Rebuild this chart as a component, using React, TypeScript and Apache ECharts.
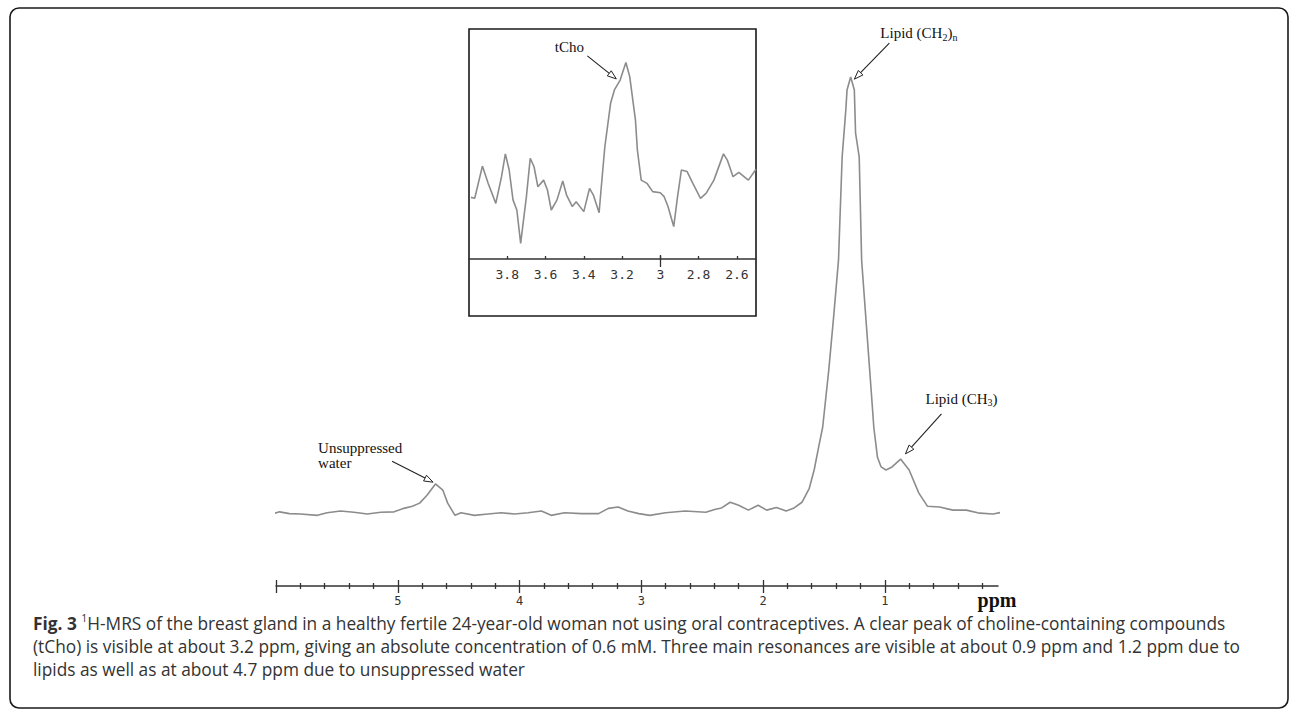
import React, { useEffect, useRef } from "react";
import * as echarts from "echarts";

// ---------- main spectrum (ppm, intensity; baseline 0, tallest peak 100) ----------
const mainPpm = [
  6.02, 5.97, 5.89, 5.8, 5.66, 5.58, 5.47, 5.36, 5.25, 5.14,
  5.03, 4.95, 4.88, 4.82, 4.76, 4.69, 4.63, 4.59, 4.53, 4.48,
  4.37, 4.26, 4.15, 4.04, 3.93, 3.82, 3.74, 3.63, 3.49, 3.35,
  3.27, 3.19, 3.11, 3.02, 2.93, 2.8, 2.64, 2.47, 2.39, 2.34,
  2.27, 2.2, 2.12, 2.04, 1.97, 1.89, 1.81, 1.75, 1.68, 1.62,
  1.58, 1.54, 1.51, 1.46, 1.42, 1.38, 1.35, 1.32, 1.31, 1.28,
  1.25, 1.24, 1.21, 1.19, 1.15, 1.13, 1.11, 1.1, 1.09, 1.06,
  1.03, 0.99, 0.94, 0.87, 0.8, 0.72, 0.65, 0.55, 0.44, 0.33,
  0.22, 0.11, -0.01,
];
const mainIntensity = [
  -0.1, 0.3, -0.1, -0.2, -0.5, 0.1, 0.5, 0.2, -0.2, 0.2,
  0.3, 1.1, 1.6, 2.3, 4.1, 6.7, 5.3, 2.3, -0.5, 0.1,
  -0.5, -0.2, 0.1, -0.2, 0.1, 0.5, -0.5, 0.1, -0.1, -0.1,
  1.1, 1.4, 0.5, -0.1, -0.5, 0.1, 0.5, 0.2, 0.9, 1.2,
  2.5, 1.8, 0.7, 1.8, 0.7, 1.3, 0.5, 1.1, 2.5, 5.7,
  9.9, 15.6, 19.7, 32.8, 45.0, 58.0, 81.7, 92.4, 97.0, 100,
  97.0, 87.2, 81.7, 58.0, 42.7, 35.1, 27.5, 23.6, 19.7, 12.8,
  10.6, 9.9, 10.6, 12.4, 9.9, 4.6, 1.6, 1.4, 0.7, 0.7,
  0, -0.2, 0.5,
];

// ---------- inset spectrum (zoom of 4.0 – 2.5 ppm) ----------
const insetPpm = [
  3.99, 3.97, 3.93, 3.9, 3.86, 3.83, 3.81, 3.79, 3.77, 3.75,
  3.73, 3.7, 3.68, 3.66, 3.64, 3.61, 3.59, 3.57, 3.54, 3.51,
  3.49, 3.46, 3.44, 3.4, 3.37, 3.35, 3.32, 3.31, 3.29, 3.26,
  3.24, 3.21, 3.18, 3.16, 3.13, 3.12, 3.1, 3.07, 3.04, 3.0,
  2.98, 2.96, 2.93, 2.91, 2.89, 2.86, 2.83, 2.79, 2.76, 2.72,
  2.67, 2.65, 2.62, 2.59, 2.54, 2.5,
];
const insetIntensity = [
  26.8, 26.4, 40.4, 32.9, 24.2, 35.8, 45.7, 38.7, 25.7, 21.3,
  6.8, 27.1, 43.8, 40.1, 31.4, 34.3, 30.0, 21.3, 25.7, 33.9,
  27.8, 22.8, 24.9, 20.6, 30.7, 27.8, 20.1, 30.0, 48.8, 67.7,
  73.5, 77.8, 85.4, 79.3, 60.4, 47.4, 34.3, 32.9, 29.3, 28.8,
  27.1, 22.8, 14.1, 27.1, 38.7, 38.0, 32.9, 26.4, 28.6, 34.3,
  45.7, 43.0, 35.8, 37.7, 34.3, 39.0,
];

// ---------- axis ticks ----------
const mainTickLabels = [5, 4, 3, 2, 1];
const mainMajorTicks = [6, 5, 4, 3, 2, 1];
const mainMinorTicks = [
  5.8, 5.6, 5.4, 5.2, 4.8, 4.6, 4.4, 4.2, 3.8, 3.6, 3.4, 3.2,
  2.8, 2.6, 2.4, 2.2, 1.8, 1.6, 1.4, 1.2, 0.8, 0.6, 0.4, 0.2,
];
const insetTickLabels = [3.8, 3.6, 3.4, 3.2, 3, 2.8, 2.6];
const insetMajorTicks = [3];

// ---------- annotations (arrow tip in data units) ----------
const annotations = [
  { series: 1, ppm: 3.23, v: 78.3, tail: [-29, -23], text: "tCho", tx: -47, ty: -32, align: "center" },
  { series: 0, ppm: 1.25, v: 99.5, tail: [35, -36], text: "Lipid (CH{s|2}){s|n}", tx: 26, ty: -46, align: "left" },
  { series: 0, ppm: 0.83, v: 13.6, tail: [36, -40], text: "Lipid (CH{s|3})", tx: 20, ty: -55, align: "left" },
  { series: 0, ppm: 4.71, v: 7.1, tail: [-41, -21], text: "Unsuppressed\nwater", tx: -115, ty: -27, align: "left" },
];

const captionLines = [
  "{b|Fig. 3} {sup|1}H-MRS of the breast gland in a healthy fertile 24-year-old woman not using oral contraceptives. A clear peak of choline-containing compounds",
  "(tCho) is visible at about 3.2 ppm, giving an absolute concentration of 0.6 mM. Three main resonances are visible at about 0.9 ppm and 1.2 ppm due to",
  "lipids as well as at about 4.7 ppm due to unsuppressed water",
];

const W = 1290;
const H = 711;
const AX = "#333";
const LINE = "#8c8c8c";
const SERIF = "'Liberation Serif', 'Times New Roman', serif";
const SANS = "'Open Sans', 'Noto Sans', sans-serif";
const MONO = "'DejaVu Sans Mono', monospace";
const CAP_SIZE = 17.3;

export default function App() {
  const ref = useRef<HTMLDivElement>(null);
  useEffect(() => {
    const chart = echarts.init(ref.current!, null, { renderer: "svg", width: W, height: H });
    const mainData = mainPpm.map((p, i) => [p, mainIntensity[i]]);
    const insetData = insetPpm.map((p, i) => [p, insetIntensity[i]]);

    const baseX = (gridIndex: number, min: number, max: number) => ({
      type: "value",
      gridIndex,
      min,
      max,
      inverse: true,
      position: "bottom",
      splitLine: { show: false },
      axisLine: { show: false, onZero: false },
      axisTick: { show: false },
      axisLabel: { show: false },
    });

    const option: any = {
      animation: false,
      backgroundColor: "#fff",
      grid: [
        { left: 276, right: 292, top: 77, bottom: 125 },
        { left: 469, right: 534, top: 29, bottom: 452 },
      ],
      xAxis: [
        {
          ...baseX(0, 0.07, 6),
          axisLine: { show: true, onZero: false, lineStyle: { color: AX, width: 1.5 } },
          axisLabel: {
            show: true,
            customValues: mainTickLabels,
            margin: 9,
            color: AX,
            fontSize: 12,
            fontFamily: MONO,
          },
        },
        {
          ...baseX(0, 0.07, 6),
          offset: -6,
          axisTick: { show: true, customValues: mainMajorTicks, length: 13, lineStyle: { color: AX, width: 1.3 } },
        },
        {
          ...baseX(0, 0.07, 6),
          offset: -3,
          axisTick: { show: true, customValues: mainMinorTicks, length: 6, lineStyle: { color: AX, width: 1.3 } },
        },
        {
          ...baseX(1, 2.5, 4),
          axisLine: { show: true, onZero: false, lineStyle: { color: AX, width: 1.5 } },
          axisTick: { show: true, inside: true, customValues: insetTickLabels, length: 3, lineStyle: { color: AX, width: 1.3 } },
          axisLabel: {
            show: true,
            customValues: insetTickLabels,
            margin: 9,
            color: AX,
            fontSize: 13,
            fontFamily: MONO,
          },
        },
        {
          ...baseX(1, 2.5, 4),
          offset: -4,
          axisTick: { show: true, customValues: insetMajorTicks, length: 12, lineStyle: { color: AX, width: 1.3 } },
        },
      ],
      yAxis: [
        { type: "value", gridIndex: 0, min: -16.7, max: 100, show: false },
        { type: "value", gridIndex: 1, min: 0, max: 100, show: false },
      ],
      series: [
        {
          type: "line",
          xAxisIndex: 0,
          yAxisIndex: 0,
          data: mainData,
          showSymbol: false,
          clip: false,
          lineStyle: { color: LINE, width: 1.6 },
          silent: true,
        },
        {
          type: "line",
          xAxisIndex: 3,
          yAxisIndex: 1,
          data: insetData,
          showSymbol: false,
          clip: false,
          lineStyle: { color: LINE, width: 1.6 },
          silent: true,
        },
      ],
    };
    chart.setOption(option);

    const g: any[] = [];
    // outer frame
    g.push({
      type: "rect",
      silent: true,
      shape: { x: 10, y: 8, width: 1278, height: 700, r: 9 },
      style: { fill: "none", stroke: "#1a1a1a", lineWidth: 1.6 },
    });
    // inset frame
    g.push({
      type: "rect",
      silent: true,
      shape: { x: 469, y: 29, width: 287, height: 287 },
      style: { fill: "none", stroke: "#1a1a1a", lineWidth: 1.6 },
    });
    // ppm label
    g.push({
      type: "text",
      x: 997,
      y: 600,
      silent: true,
      style: {
        text: "ppm",
        fill: "#111",
        fontSize: 20,
        fontWeight: "bold",
        fontFamily: SERIF,
        align: "center",
        textAlign: "center",
        verticalAlign: "middle",
        textVerticalAlign: "middle",
      },
    });

    annotations.forEach((a) => {
      const tip = chart.convertToPixel({ seriesIndex: a.series }, [a.ppm, a.v]) as number[];
      const tail = [tip[0] + a.tail[0], tip[1] + a.tail[1]];
      const dx = tail[0] - tip[0];
      const dy = tail[1] - tip[1];
      const len = Math.sqrt(dx * dx + dy * dy);
      const ux = dx / len;
      const uy = dy / len;
      const hl = 9;
      const hw = 3.2;
      const bx = tip[0] + ux * hl;
      const by = tip[1] + uy * hl;
      g.push({
        type: "line",
        silent: true,
        shape: { x1: tail[0], y1: tail[1], x2: bx, y2: by },
        style: { stroke: "#222", lineWidth: 1.1 },
      });
      g.push({
        type: "polygon",
        silent: true,
        shape: {
          points: [
            [tip[0], tip[1]],
            [bx - uy * hw, by + ux * hw],
            [bx + uy * hw, by - ux * hw],
          ],
        },
        style: { fill: "#fff", stroke: "#222", lineWidth: 1 },
      });
      g.push({
        type: "text",
        silent: true,
        x: tip[0] + a.tx,
        y: tip[1] + a.ty,
        style: {
          text: a.text,
          fill: "#111",
          fontSize: 15,
          fontFamily: SERIF,
          lineHeight: a.text.indexOf("\n") >= 0 ? 15 : 18,
          align: a.align,
          textAlign: a.align,
          verticalAlign: "middle",
          textVerticalAlign: "middle",
          rich: {
            s: { fontSize: 10, fontFamily: SERIF, fill: "#111", verticalAlign: "bottom", lineHeight: 8 },
          },
        },
      });
    });

    captionLines.forEach((line, i) => {
      g.push({
        type: "text",
        silent: true,
        x: 33,
        y: 623 + i * 23,
        style: {
          text: line,
          fill: "#333",
          fontSize: CAP_SIZE,
          fontFamily: SANS,
          lineHeight: 22,
          align: "left",
          textAlign: "left",
          verticalAlign: "middle",
          textVerticalAlign: "middle",
          rich: {
            b: { fontSize: CAP_SIZE, fontFamily: SANS, fontWeight: "bold", fill: "#333", lineHeight: 22 },
            sup: { fontSize: 10.5, fontFamily: SANS, fill: "#333", verticalAlign: "top", lineHeight: 12 },
          },
        },
      });
    });

    chart.setOption({ graphic: g });
    return () => chart.dispose();
  }, []);
  return <div ref={ref} style={{ position: "fixed", left: 0, top: 0, width: W, height: H }} />;
}
